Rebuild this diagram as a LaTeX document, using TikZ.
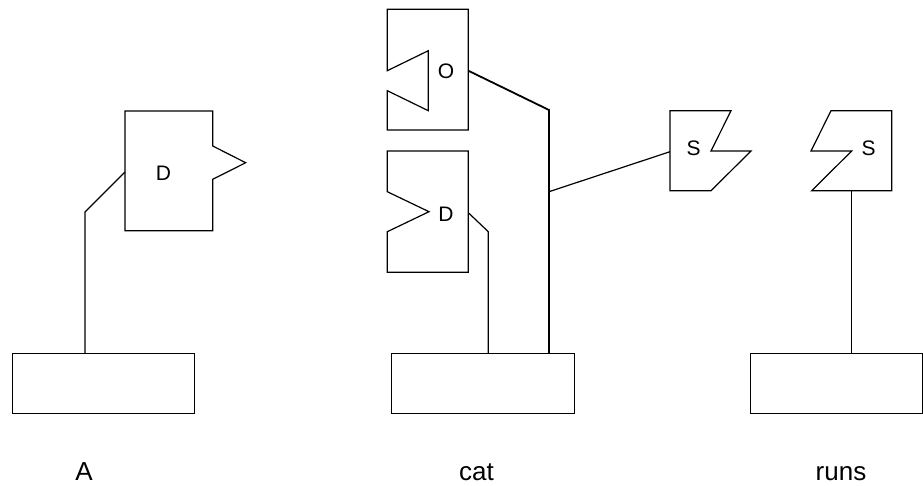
\documentclass[tikz,border=0pt]{standalone}
\usepackage{fontspec}
\setmainfont{Liberation Sans}
\begin{document}
\begin{tikzpicture}[x=1pt,y=-1pt,line width=1.2pt,line join=miter,
  lbl/.style={font=\fontsize{21}{24}\selectfont,inner sep=0pt,anchor=base},
  word/.style={font=\fontsize{26}{30}\selectfont,inner sep=0pt,anchor=base},
  basebox/.style={draw,line width=1.4pt,anchor=north west,minimum height=60pt,inner sep=0pt},
  trunk/.style={line width=1.8pt}]
\useasboundingbox (0,0) rectangle (923,485);
% ---------- left group: A ----------
\draw (125,111) -- (212.7,111) -- (212.7,146) -- (245.7,162.7) -- (212.7,179.3) -- (212.7,230.7) -- (125,230.7) -- cycle;
\node[lbl] (dA) at (163.5,180) {D};
\node[basebox,minimum width=182pt] (bA) at (12,353) {};
\node[word] (tA) at (84,480.5) {A};
\coordinate (pA) at (125,172);
\coordinate (kA) at (85,212);
\draw (pA) -- (kA) -- (bA.north -| kA);
% ---------- middle group: cat ----------
\draw (387.3,9.3) -- (468.3,9.3) -- (468.3,130) -- (387.3,130) -- (387.3,90.7) -- (428.3,110.7) -- (428.3,50.7) -- (387.3,70.7) -- cycle;
\node[lbl] (oC) at (446,78.5) {O};
\draw (387.3,151) -- (468.3,151) -- (468.3,272.3) -- (387.3,272.3) -- (387.3,231.7) -- (429,211.7) -- (387.3,191.7) -- cycle;
\node[lbl] (dC) at (446,221.5) {D};
\node[basebox,minimum width=182.5pt] (bC) at (391,353) {};
\node[word] (tC) at (476.5,480.5) {cat};
\coordinate (pO) at (468.3,70.7);
\coordinate (kO) at (549,110);
\draw[trunk] (pO) -- (kO) -- (bC.north -| kO);
\coordinate (pD) at (468.3,212.7);
\coordinate (kD) at (488.3,231.7);
\draw (pD) -- (kD) -- (bC.north -| kD);
\coordinate (jS) at (549,191.7);
\coordinate (pS) at (670,151.7);
\draw (jS) -- (pS);
% ---------- S boxes ----------
\draw (670,110.7) -- (731,110.7) -- (711,151) -- (751,151) -- (711,190.7) -- (670,190.7) -- cycle;
\node[lbl] (sL) at (693.5,155.5) {S};
\draw (831,110.7) -- (891.7,110.7) -- (891.7,190.7) -- (811.7,190.7) -- (851.7,151) -- (811,151) -- cycle;
\node[lbl] (sR) at (868.5,155.5) {S};
% ---------- right group: runs ----------
\node[basebox,minimum width=172pt] (bR) at (750,353) {};
\node[word] (tR) at (841,480.5) {runs};
\coordinate (pR) at (851.7,190.7);
\draw (pR) -- (bR.north -| pR);
\end{tikzpicture}
\end{document}
